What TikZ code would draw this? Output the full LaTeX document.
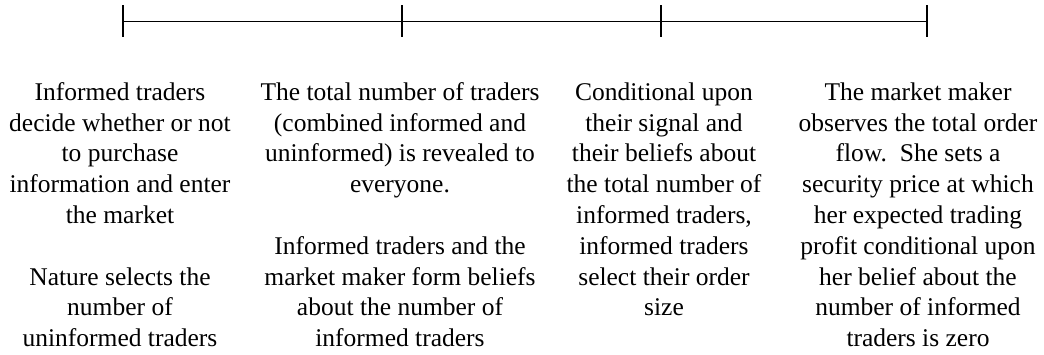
\documentclass[tikz,border=0pt]{standalone}
\usepackage{fontspec}
\setmainfont{Liberation Serif}
\newfontfamily\timesfont{Liberation Serif}
\begin{document}
\begin{tikzpicture}[x=0.5pt,y=-0.5pt,
  axis/.style={line width=0.85pt, line cap=butt},
  evt/.style={anchor=north, inner sep=0pt, align=center,
    font=\timesfont\fontsize{12.75pt}{15.4pt}\selectfont}]
\useasboundingbox (0,0) rectangle (1044,354);
% timeline points
\coordinate (t1) at (123,21.5);
\coordinate (t2) at (402,21.5);
\coordinate (t3) at (661,21.5);
\coordinate (t4) at (927,21.5);
\draw[axis] (t1) -- (t4);
\foreach \t in {t1,t2,t3,t4}
  \draw[axis] ([yshift=8.25pt]\t) -- ([yshift=-7.75pt]\t);
% texts
\node[evt] (e1) at (120,78.4) {\strut Informed traders\\decide whether or not\\to purchase\\information and enter\\the market\\[15.4pt]Nature selects the\\number of\\uninformed traders};
\node[evt] (e2) at (400,78.4) {\strut The total number of traders\\(combined informed and\\uninformed) is revealed to\\everyone.\\[15.4pt]Informed traders and the\\market maker form beliefs\\about the number of\\informed traders};
\node[evt] (e3) at (664,78.4) {\strut Conditional upon\\their signal and\\their beliefs about\\the total number of\\informed traders,\\informed traders\\select their order\\size};
\node[evt] (e4) at (918,78.4) {\strut The market maker\\observes the total order\\flow.\ \ She sets a\\security price at which\\her expected trading\\profit conditional upon\\her belief about the\\number of informed\\traders is zero};
\end{tikzpicture}
\end{document}
